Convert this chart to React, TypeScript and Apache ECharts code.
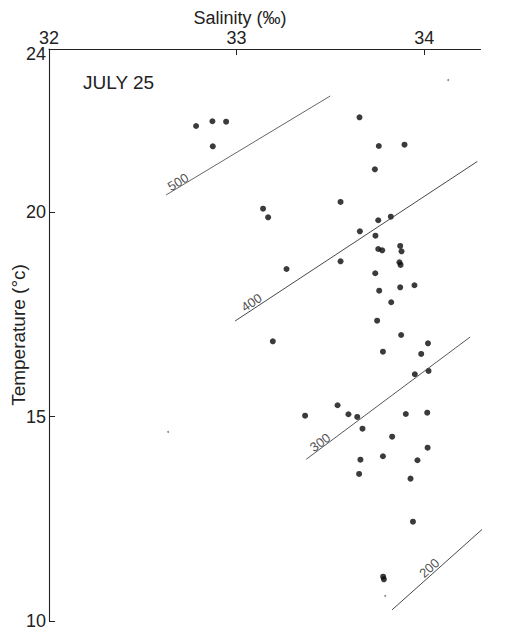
import React, { useEffect, useRef } from "react";
import * as echarts from "echarts";

// Salinity (‰) and temperature (°C) of each observation
const salinity = [
  32.784, 32.871, 32.944, 32.873, 33.655, 33.758, 33.895, 33.737, 33.554, 33.141,
  33.168, 33.755, 33.822, 33.657, 33.740, 33.755, 33.776, 33.872, 33.879, 33.868,
  33.874, 33.554, 33.266, 33.739, 33.760, 33.872, 33.948, 33.824, 33.749, 33.193,
  33.877, 34.020, 33.780, 33.984, 33.950, 34.023, 33.538, 33.365, 33.596, 33.643,
  33.671, 33.902, 34.016, 33.829, 34.018, 33.660, 33.780, 33.964, 33.653, 33.927,
  33.940, 33.781, 33.785,
];
const temperature = [
  22.116, 22.231, 22.221, 21.619, 22.328, 21.626, 21.658, 21.056, 20.256, 20.091,
  19.881, 19.808, 19.896, 19.538, 19.431, 19.105, 19.073, 19.179, 19.049, 18.780,
  18.714, 18.804, 18.616, 18.511, 18.085, 18.168, 18.217, 17.801, 17.350, 16.846,
  17.000, 16.797, 16.592, 16.536, 16.039, 16.120, 15.280, 15.025, 15.060, 14.994,
  14.707, 15.067, 15.099, 14.511, 14.242, 13.948, 14.032, 13.934, 13.599, 13.484,
  12.431, 11.085, 11.021,
];
// faint specks printed on the sheet
const speckSalinity = [32.635, 33.792, 34.128];
const speckTemperature = [14.627, 10.613, 23.241];

// isopleths: [salinity, temperature] end points
const iso500 = [[32.624, 20.427], [33.499, 22.85]];
const iso400 = [[32.992, 17.343], [34.283, 21.247]];
const iso300 = [[33.371, 13.958], [34.245, 16.951]];
const iso200 = [[33.828, 10.27], [34.494, 13.004]];

const isoLabelText = ["500", "400", "300", "200"];
const isoLabelSalinity = [32.688, 33.08, 33.445, 34.027];
const isoLabelTemperature = [20.745, 17.796, 14.37, 11.298];
const isoLabelAngle = [31, 33.4, 36.8, 41.8];

const xTicks = [32, 33, 34];
const xMinorTicks = [33, 34];
const yTicks = [10, 15, 20, 24];
const yMinorTicks = [10, 15, 20];

const FONT = "Liberation Sans";
const INK = "#222";

export default function App() {
  const ref = useRef<HTMLDivElement>(null);
  useEffect(() => {
    if (!ref.current) return;
    const chart = echarts.init(ref.current, null, { renderer: "svg" });
    const points = salinity.map((s, i) => [s, temperature[i]]);
    const specks = speckSalinity.map((s, i) => [s, speckTemperature[i]]);
    const isoLabels = isoLabelText.map((t, i) => ({
      name: t,
      value: [isoLabelSalinity[i], isoLabelTemperature[i]],
      label: {
        show: true,
        rotate: isoLabelAngle[i],
        color: INK,
        fontSize: 13,
        fontFamily: FONT,
        textBorderWidth: 0,
      },
    }));
    const isoLine = (data: number[][], color: string) => ({
      type: "line",
      data,
      showSymbol: false,
      symbol: "none",
      clip: false,
      silent: true,
      lineStyle: { width: 0.9, color },
    });
    chart.setOption({
      animation: false,
      backgroundColor: "#fff",
      grid: {
        left: 49,
        top: 49,
        right: 35.5,
        bottom: 7,
        containLabel: false,
        outerBoundsMode: "none",
      },
      xAxis: {
        type: "value",
        position: "top",
        min: 32,
        max: 34.3,
        interval: 1,
        axisLine: { show: true, lineStyle: { color: INK, width: 1.1 } },
        axisTick: { show: true, inside: true, length: 6, customValues: xMinorTicks, lineStyle: { color: INK } },
        axisLabel: {
          customValues: xTicks,
          margin: 2,
          fontSize: 18,
          color: INK,
          fontFamily: FONT,
          alignMinLabel: "center",
          alignMaxLabel: "center",
        },
        splitLine: { show: false },
      },
      yAxis: {
        type: "value",
        min: 10,
        max: 24,
        interval: 5,
        name: "Temperature (°c)",
        nameLocation: "middle",
        nameGap: 21,
        nameMoveOverlap: false,
        nameTextStyle: { fontSize: 19, color: INK, fontFamily: FONT },
        axisLine: { show: true, lineStyle: { color: INK, width: 1.1 } },
        axisTick: { show: true, inside: true, length: 6, customValues: yMinorTicks, lineStyle: { color: INK } },
        axisLabel: {
          customValues: yTicks,
          margin: 3,
          fontSize: 18,
          color: INK,
          fontFamily: FONT,
          formatter: (v: number) => (v === 24 ? "{low|24}" : String(v)),
          rich: { low: { padding: [10, 0, 0, 0], fontSize: 18, color: INK, fontFamily: FONT } },
        },
        splitLine: { show: false },
      },
      graphic: [
        {
          type: "text",
          x: 240,
          y: 18,
          style: {
            text: "Salinity (‰)",
            fontSize: 18,
            fontFamily: FONT,
            fill: INK,
            align: "center",
            verticalAlign: "middle",
          },
        },
        {
          type: "text",
          x: 83,
          y: 82,
          style: {
            text: "JULY 25",
            fontSize: 19,
            fontFamily: FONT,
            fill: INK,
            align: "left",
            verticalAlign: "middle",
          },
        },
      ],
      series: [
        isoLine(iso500, "#555"),
        isoLine(iso400, "#333"),
        isoLine(iso300, "#444"),
        isoLine(iso200, "#333"),
        {
          type: "scatter",
          data: isoLabels,
          symbolSize: 0,
          silent: true,
          color: INK,
          itemStyle: { color: INK },
          label: {
            show: true,
            position: "inside",
            formatter: "{b}",
            fontSize: 13,
            color: INK,
            textBorderWidth: 0,
            fontFamily: FONT,
          },
        },
        {
          type: "scatter",
          data: points,
          symbolSize: 6,
          itemStyle: { color: "#0a0a0a" },
        },
        {
          type: "scatter",
          data: specks,
          symbolSize: 2,
          itemStyle: { color: "#777" },
        },
      ],
    });
    return () => chart.dispose();
  }, []);
  return (
    <div
      ref={ref}
      style={{ position: "absolute", left: 0, top: 0, width: 516, height: 628 }}
    />
  );
}
